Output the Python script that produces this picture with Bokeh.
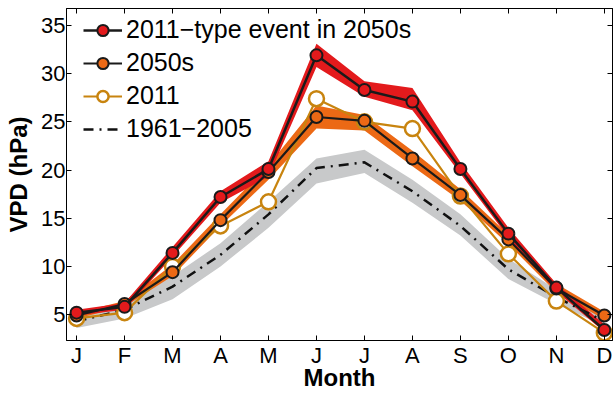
from bokeh.plotting import figure
from bokeh.models import (ColumnDataSource, LinearAxis, FixedTicker, Legend,
                          LegendItem, Range1d)
from bokeh.embed import file_html
from bokeh.resources import INLINE

# ---- data ----
months = ["J", "F", "M", "A", "M", "J", "J", "A", "S", "O", "N", "D"]
month_num = [1, 2, 3, 4, 5, 6, 7, 8, 9, 10, 11, 12]

type2011_2050s = [5.2, 5.8, 11.4, 17.2, 20.1, 31.9, 28.3, 27.1, 20.1, 13.4, 7.8, 3.4]
type2011_2050s_lo = [4.9, 5.5, 11.0, 16.6, 19.3, 30.7, 27.6, 26.2, 19.6, 13.0, 7.4, 3.2]
type2011_2050s_hi = [5.5, 6.2, 12.0, 17.8, 20.9, 33.1, 29.2, 28.5, 20.8, 14.0, 8.2, 4.0]

s2050s = [4.9, 6.1, 9.4, 14.8, 19.8, 25.5, 25.1, 21.2, 17.4, 12.8, 7.7, 4.9]
s2050s_lo = [4.6, 5.8, 9.0, 14.2, 19.0, 24.3, 24.1, 20.4, 16.8, 12.3, 7.3, 4.5]
s2050s_hi = [5.2, 6.4, 10.2, 15.4, 20.5, 26.7, 25.7, 22.0, 18.0, 13.3, 8.2, 5.3]

y2011 = [4.6, 5.2, 10.0, 14.2, 16.7, 27.4, 25.0, 24.3, 17.3, 11.3, 6.4, 3.1]

base = [4.3, 5.5, 7.9, 11.2, 15.4, 20.2, 20.8, 17.8, 14.2, 9.7, 6.8, 4.3]
base_lo = [3.6, 4.6, 6.6, 10.0, 14.0, 18.6, 19.7, 16.6, 13.2, 8.7, 6.1, 3.8]
base_hi = [5.0, 6.3, 9.0, 12.4, 16.7, 21.2, 22.1, 19.0, 15.4, 10.8, 7.6, 4.9]

yticks = [5, 10, 15, 20, 25, 30, 35]

RED = "#E31A1C"
ORANGE = "#EC6915"
GOLD = "#C8840F"
GRAY = "#C8C9CA"
FONT = "Liberation Sans"

src = ColumnDataSource(dict(
    x=month_num, r=type2011_2050s, rlo=type2011_2050s_lo, rhi=type2011_2050s_hi,
    o=s2050s, olo=s2050s_lo, ohi=s2050s_hi, g=y2011,
    b=base, blo=base_lo, bhi=base_hi))

p = figure(width=614, height=393, output_backend="svg",
           toolbar_location=None, x_range=Range1d(0.79, 12.17),
           y_range=Range1d(2.31, 36.76),
           min_border_left=66, min_border_right=2, min_border_top=8,
           min_border_bottom=52)
p.background_fill_color = "white"
p.border_fill_color = "white"
p.outline_line_color = "black"
p.outline_line_width = 1
p.grid.visible = False

# bands
p.varea(x="x", y1="blo", y2="bhi", source=src, fill_color=GRAY)
p.varea(x="x", y1="olo", y2="ohi", source=src, fill_color=ORANGE)
p.varea(x="x", y1="rlo", y2="rhi", source=src, fill_color=RED)

# lines
lb = p.line("x", "b", source=src, line_color="#111111", line_width=2.5,
            line_dash="10 6 2 6")
lg = p.line("x", "g", source=src, line_color=GOLD, line_width=2.2)
sg = p.scatter("x", "g", source=src, size=15, fill_color="white",
               line_color=GOLD, line_width=2.5)
lo = p.line("x", "o", source=src, line_color="#1a1a1a", line_width=2.2)
so = p.scatter("x", "o", source=src, size=12, fill_color=ORANGE,
               line_color="#1a1a1a", line_width=2)
lr = p.line("x", "r", source=src, line_color="#1a1a1a", line_width=2.5)
sr = p.scatter("x", "r", source=src, size=12, fill_color=RED,
               line_color="#1a1a1a", line_width=2)

# axes
def style_axis(ax, show_labels=True):
    ax.axis_line_color = "black"
    ax.axis_line_width = 1
    ax.major_tick_in = 5
    ax.major_tick_out = 0
    ax.major_tick_line_color = "black"
    ax.minor_tick_line_color = None
    ax.major_label_text_font = FONT
    ax.major_label_text_font_size = "22px" if show_labels else "0px"
    ax.major_label_text_color = "black"
    ax.axis_label_text_font = FONT
    ax.axis_label_text_font_size = "24px"
    ax.axis_label_text_font_style = "bold"
    ax.axis_label_text_color = "black"

xa = p.xaxis[0]
xa.ticker = FixedTicker(ticks=month_num)
xa.major_label_overrides = {m: lab for m, lab in zip(month_num, months)}
xa.axis_label = "Month"
style_axis(xa)
xa.major_label_standoff = 2
xa.axis_label_standoff = -7

ya = p.yaxis[0]
ya.ticker = FixedTicker(ticks=yticks)
ya.axis_label = "VPD (hPa)"
style_axis(ya)
ya.major_label_standoff = 1
ya.axis_label_standoff = 6

ra = LinearAxis(ticker=FixedTicker(ticks=yticks))
style_axis(ra, False)
ra.major_label_standoff = 0
p.add_layout(ra, "right")

ta = LinearAxis(ticker=FixedTicker(ticks=month_num))
style_axis(ta, False)
ta.major_label_standoff = 0
p.add_layout(ta, "above")

legend = Legend(items=[
    LegendItem(label="2011\u2212type event in 2050s", renderers=[lr, sr]),
    LegendItem(label="2050s", renderers=[lo, so]),
    LegendItem(label="2011", renderers=[lg, sg]),
    LegendItem(label="1961\u22122005", renderers=[lb]),
], location=(17, 197))
legend.background_fill_alpha = 0
legend.border_line_color = None
legend.label_text_font = FONT
legend.label_text_font_size = "25px"
legend.label_text_color = "black"
legend.glyph_width = 39
legend.glyph_height = 28
legend.label_height = 28
legend.spacing = 4
legend.padding = 8
legend.margin = 0
legend.label_standoff = 4
p.add_layout(legend, "center")

open("out.html", "w").write(file_html(p, INLINE))
